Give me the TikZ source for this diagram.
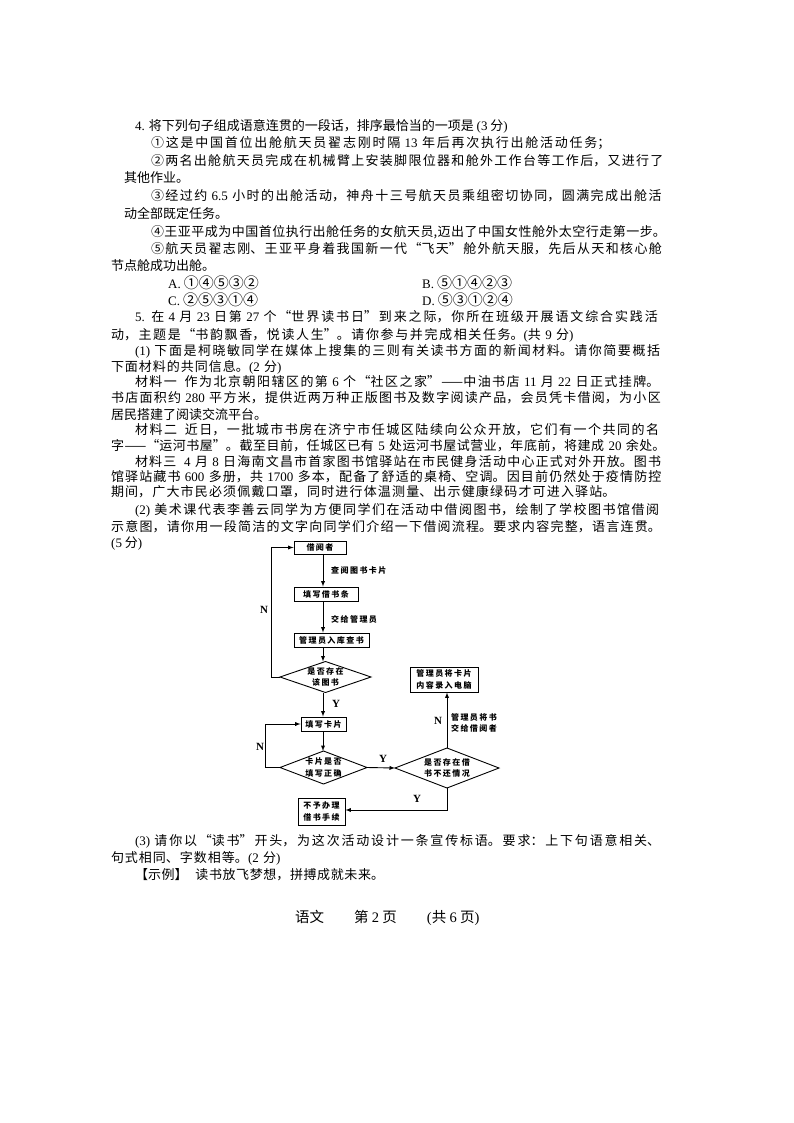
\documentclass[tikz,border=0pt]{standalone}
\usepackage{fontspec}
\usepackage{amsmath}
\usetikzlibrary{shapes.geometric}
\setmainfont{Noto Sans CJK SC}
\newfontfamily\latinfont{Liberation Serif}
\newfontfamily\flowfont[LetterSpace=18]{Noto Sans CJK SC}
\XeTeXlinebreaklocale "zh"
\XeTeXlinebreakskip=0pt plus 4pt
\tolerance=10000
\hbadness=10000
\hfuzz=20pt
\newcommand{\zahl}[1]{{\latinfont #1}}
\newcommand{\kreise}[1]{{\fontsize{15}{15}\selectfont #1}}
\tikzset{
	zeile/.style={anchor=west,inner sep=0pt,outer sep=0pt,font=\fontsize{13}{14}\selectfont,execute at begin node={\parfillskip=0pt}},
	option/.style={anchor=west,inner sep=0pt,font=\fontsize{13}{14}\selectfont},
	kasten/.style={draw,line width=0.9pt,inner sep=0pt,align=center,font=\flowfont\bfseries\fontsize{8}{11.5}\selectfont},
	raute/.style={draw,diamond,line width=0.9pt,inner sep=0pt,outer sep=0pt},
	flowtext/.style={inner sep=0pt,align=center,font=\flowfont\bfseries\fontsize{8}{11.5}\selectfont},
	marke/.style={inner sep=0pt,font=\latinfont\bfseries\fontsize{11}{12}\selectfont},
	pfeil/.style={-latex,line width=0.9pt}
}
\newcommand{\zeileAt}[5]{\node[zeile,text width=#4pt] (#1) at (#2,#3) {#5};}
\begin{document}
\begin{tikzpicture}[x=1pt,y=-1pt]
		\useasboundingbox (0,0) rectangle (794,1123);
		% Aufgabe 4
		\node[option] (vierA) at (135,126) {\zahl{4.} 将下列句子组成语意连贯的一段话，排序最恰当的一项是 \zahl{(3} 分\zahl{)}};
		\zeileAt{vierB}{151}{143}{471}{①这是中国首位出舱航天员翟志刚时隔 \zahl{13} 年后再次执行出舱活动任务；}
		\zeileAt{vierC}{151}{161}{521}{②两名出舱航天员完成在机械臂上安装脚限位器和舱外工作台等工作后，又进行了}
		\node[option] (vierD) at (124,178) {其他作业。};
		\zeileAt{vierE}{151}{196}{520}{③经过约 \zahl{6.5} 小时的出舱活动，神舟十三号航天员乘组密切协同，圆满完成出舱活}
		\node[option] (vierF) at (124,214) {动全部既定任务。};
		\zeileAt{vierG}{151}{232}{518}{④王亚平成为中国首位执行出舱任务的女航天员,迈出了中国女性舱外太空行走第一步。}
		\zeileAt{vierH}{151}{249}{520}{⑤航天员翟志刚、王亚平身着我国新一代“飞天”舱外航天服，先后从天和核心舱}
		\node[option] (vierI) at (111,266) {节点舱成功出舱。};
		% Antworten
		\node[option] (optA) at (168,283) {\zahl{A.} \kreise{①④⑤③②}};
		\node[option] (optB) at (422,283) {\zahl{B.} \kreise{⑤①④②③}};
		\node[option] (optC) at (168,300) {\zahl{C.} \kreise{②⑤③①④}};
		\node[option] (optD) at (422,300) {\zahl{D.} \kreise{⑤③①②④}};
		% Aufgabe 5
		\zeileAt{fuenfA}{135}{317}{535}{\zahl{5.} 在 \zahl{4} 月 \zahl{23} 日第 \zahl{27} 个“世界读书日”到来之际，你所在班级开展语文综合实践活}
		\zeileAt{fuenfB}{111}{335}{473}{动，主题是“书韵飘香，悦读人生”。请你参与并完成相关任务。\zahl{(}共 \zahl{9} 分\zahl{)}}
		\zeileAt{fuenfC}{135}{351}{535}{\zahl{(1)} 下面是柯晓敏同学在媒体上搜集的三则有关读书方面的新闻材料。请你简要概括}
		\zeileAt{fuenfD}{111}{367}{177}{下面材料的共同信息。\zahl{(2} 分\zahl{)}}
		\zeileAt{fuenfE}{135}{382}{534}{材料一\hspace{0.6em}作为北京朝阳辖区的第 \zahl{6} 个“社区之家”——中油书店 \zahl{11} 月 \zahl{22} 日正式挂牌。}
		\zeileAt{fuenfF}{111}{398}{558}{书店面积约 \zahl{280} 平方米，提供近两万种正版图书及数字阅读产品，会员凭卡借阅，为小区}
		\node[option] (fuenfG) at (111,415) {居民搭建了阅读交流平台。};
		\zeileAt{fuenfH}{135}{430}{534}{材料二\hspace{0.6em}近日，一批城市书房在济宁市任城区陆续向公众开放，它们有一个共同的名}
		\zeileAt{fuenfI}{111}{446}{558}{字——“运河书屋”。截至目前，任城区已有 \zahl{5} 处运河书屋试营业，年底前，将建成 \zahl{20} 余处。}
		\zeileAt{fuenfJ}{135}{462}{534}{材料三\hspace{0.6em}\zahl{4} 月 \zahl{8} 日海南文昌市首家图书馆驿站在市民健身活动中心正式对外开放。图书}
		\zeileAt{fuenfK}{111}{477}{558}{馆驿站藏书 \zahl{600} 多册，共 \zahl{1700} 多本，配备了舒适的桌椅、空调。因目前仍然处于疫情防控}
		\zeileAt{fuenfL}{111}{492}{512}{期间，广大市民必须佩戴口罩，同时进行体温测量、出示健康绿码才可进入驿站。}
		\zeileAt{fuenfM}{135}{510}{534}{\zahl{(2)} 美术课代表李善云同学为方便同学们在活动中借阅图书，绘制了学校图书馆借阅}
		\zeileAt{fuenfN}{111}{527}{558}{示意图，请你用一段简洁的文字向同学们介绍一下借阅流程。要求内容完整，语言连贯。}
		\node[option] (fuenfO) at (111,544) {\zahl{(5} 分\zahl{)}};
		% Flussdiagramm
		\coordinate (achse) at (323,0);
		\node[kasten,minimum width=52pt,minimum height=13pt] (leser) at (320,547.5) {借阅者};
		\node[kasten,minimum width=64pt,minimum height=14pt] (zettel) at (326,594) {填写借书条};
		\node[kasten,minimum width=75pt,minimum height=14pt] (suche) at (331.5,640) {管理员入库查书};
		\node[raute,minimum width=91pt,minimum height=31pt] (bestand) at (325.5,677) {};
		\node[flowtext] (bestandtext) at (bestand) {是否存在\\该图书};
		\node[kasten,minimum width=45pt,minimum height=14pt] (karte) at (323.5,724) {填写卡片};
		\node[raute,minimum width=87pt,minimum height=33pt] (pruefung) at (323.5,767.5) {};
		\node[flowtext] (pruefungtext) at (pruefung) {卡片是否\\填写正确};
		\node[raute,minimum width=104pt,minimum height=40pt] (rueckgabe) at (447,768) {};
		\node[flowtext] (rueckgabetext) at (rueckgabe) {是否存在借\\书不还情况};
		\node[kasten,minimum width=68pt,minimum height=25pt] (computer) at (444,679.5) {管理员将卡片\\内容录入电脑};
		\node[kasten,minimum width=47pt,minimum height=27pt] (absage) at (321.5,811.5) {不予办理\\借书手续};
		% Pfeile
		\coordinate (linksoben) at (271,547.5);
		\coordinate (linksunten) at (265,724);
		\coordinate (ecke) at (447,810);
		\draw[pfeil] (achse |- leser.south) -- (achse |- zettel.north);
		\draw[pfeil] (achse |- zettel.south) -- (achse |- suche.north);
		\draw[pfeil] (achse |- suche.south) -- (achse |- bestand.north);
		\draw[pfeil] (achse |- bestand.south) -- (achse |- karte.north);
		\draw[pfeil] (achse |- karte.south) -- (achse |- pruefung.north);
		\draw[pfeil] (bestand.west) -- (linksoben |- bestand.west) -- (linksoben) -- (leser.west);
		\draw[pfeil] (pruefung.west) -- (linksunten |- pruefung.west) -- (linksunten) -- (karte.west);
		\draw[pfeil] (pruefung.east) -- (rueckgabe.west);
		\draw[pfeil] (rueckgabe.north) -- (rueckgabe.north |- computer.south);
		\draw[pfeil] (rueckgabe.south) -- (ecke) -- (absage.east |- ecke);
		% Beschriftung
		\node[flowtext,anchor=west] (kartei) at (331,570) {查阅图书卡片};
		\node[flowtext,anchor=west] (abgabe) at (331,619) {交给管理员};
		\node[flowtext] (ausgabe) at (474,723) {管理员将书\\交给借阅者};
		\node[marke] (n1) at (264,610) {N};
		\node[marke] (y1) at (336,704) {Y};
		\node[marke] (n2) at (260,747) {N};
		\node[marke] (y2) at (383,759) {Y};
		\node[marke] (n3) at (438,721) {N};
		\node[marke] (y3) at (417,799) {Y};
		% Aufgabe 5 (3)
		\zeileAt{dreiA}{135}{841}{537}{\zahl{(3)} 请你以“读书”开头，为这次活动设计一条宣传标语。要求：上下句语意相关、}
		\zeileAt{dreiB}{111}{858}{176}{句式相同、字数相等。\zahl{(2} 分\zahl{)}}
		\zeileAt{dreiC}{135}{875}{253}{【示例】\hspace{0.6em}读书放飞梦想，拼搏成就未来。}
		% Fusszeile
		\node[option,font=\fontsize{14.5}{15}\selectfont] (fuss) at (295,918) {语文\hspace{30pt}第 \zahl{2} 页\hspace{30pt}\zahl{(}共 \zahl{6} 页\zahl{)}};
\end{tikzpicture}
\end{document}
